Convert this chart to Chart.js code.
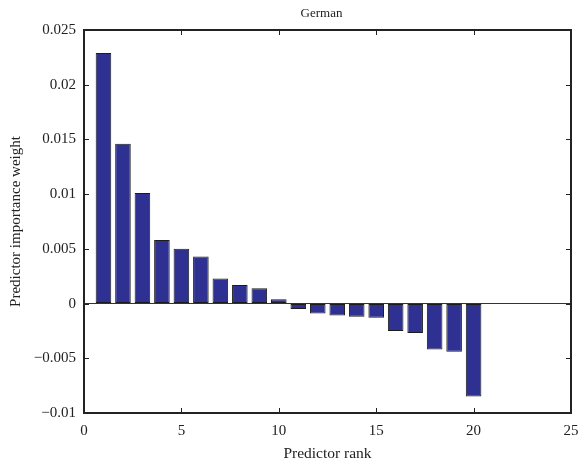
<!DOCTYPE html>
<html>
<head>
<meta charset="utf-8">
<script src="https://cdn.jsdelivr.net/npm/chart.js@4/dist/chart.umd.min.js"></script>
<style>
  html, body { margin: 0; padding: 0; background: #fff; }
  #wrap { width: 579px; height: 470px; }
</style>
</head>
<body>
<div id="wrap"><canvas id="chart" width="579" height="470"></canvas></div>
<script>
// predictor ranks and their importance weights
const ranks = [1, 2, 3, 4, 5, 6, 7, 8, 9, 10, 11, 12, 13, 14, 15, 16, 17, 18, 19, 20];
const weights = [0.0229, 0.0146, 0.0101, 0.0058, 0.0050, 0.0043, 0.0023, 0.0017, 0.0014, 0.0004,
  -0.0005, -0.0009, -0.0011, -0.0012, -0.0013, -0.0025, -0.0027, -0.0042, -0.0044, -0.0085];
const xTicks = [0, 5, 10, 15, 20, 25];
const yTicks = [-0.01, -0.005, 0, 0.005, 0.01, 0.015, 0.02, 0.025];
const chartTitle = 'German';

const serif = "'Liberation Serif', 'DejaVu Serif', serif";

// box around the plot, inward ticks on all four sides, and the title
const frame = {
  id: 'frame',
  afterDraw(chart) {
    const { ctx, chartArea: a, scales: { x, y } } = chart;
    const L = Math.round(a.left), R = Math.round(a.right);
    const T = Math.round(a.top), B = Math.round(a.bottom);
    ctx.save();
    ctx.fillStyle = '#222';
    for (const v of xTicks) {
      const px = Math.round(x.getPixelForValue(v));
      ctx.fillRect(px, B - 5, 1, 5);
      ctx.fillRect(px, T, 1, 5);
    }
    for (const v of yTicks) {
      const py = Math.round(y.getPixelForValue(v));
      ctx.fillRect(L, py, 5, 1);
      ctx.fillRect(R - 5, py, 5, 1);
    }
    ctx.fillRect(L - 1, T - 1, R - L + 2, 2);
    ctx.fillRect(L - 1, B - 1, R - L + 2, 2);
    ctx.fillRect(L - 1, T - 1, 2, B - T + 2);
    ctx.fillRect(R - 1, T - 1, 2, B - T + 2);

    ctx.font = '13px ' + serif;
    ctx.textAlign = 'center';
    ctx.textBaseline = 'alphabetic';
    ctx.fillText(chartTitle, (a.left + a.right) / 2 - 6, 17);
    ctx.restore();
  }
};

new Chart(document.getElementById('chart'), {
  type: 'bar',
  data: {
    datasets: [{
      data: ranks.map((r, i) => ({ x: r, y: weights[i] })),
      backgroundColor: '#2e3192',
      borderColor: '#1c1c1c',
      borderWidth: 1,
      borderSkipped: false,
      barPercentage: 0.8,
      categoryPercentage: 1.0
    }]
  },
  options: {
    responsive: false,
    animation: false,
    layout: { padding: { top: 30, right: 8, bottom: 0, left: 0 } },
    plugins: {
      legend: { display: false },
      tooltip: { enabled: false },
      title: { display: false }
    },
    scales: {
      x: {
        type: 'linear',
        offset: false,
        min: 0,
        max: 25,
        afterBuildTicks: s => { s.ticks = xTicks.map(v => ({ value: v })); },
        afterFit: s => { s.height = 57; s.paddingRight = 0; s.paddingLeft = 0; },
        grid: { display: false },
        border: { display: false },
        ticks: {
          color: '#222',
          font: { family: serif, size: 15 },
          padding: 1,
          maxRotation: 0
        },
        title: {
          display: true,
          text: 'Predictor rank',
          color: '#222',
          font: { family: serif, size: 15.5 },
          padding: { top: 0, bottom: 7 }
        }
      },
      y: {
        min: -0.01,
        max: 0.025,
        afterBuildTicks: s => { s.ticks = yTicks.map(v => ({ value: v })); },
        afterFit: s => { s.width = 84; },
        grid: {
          drawTicks: false,
          color: c => (c.tick && c.tick.value === 0 ? '#333' : 'rgba(0,0,0,0)'),
          lineWidth: 1
        },
        border: { display: false },
        ticks: {
          color: '#222',
          font: { family: serif, size: 15 },
          padding: 8,
          callback: v => (v === 0 ? '0' : String(+v.toFixed(3)).replace('-', '\u2212'))
        },
        title: {
          display: true,
          text: 'Predictor importance weight',
          color: '#222',
          font: { family: serif, size: 15 },
          padding: { top: 7, bottom: 2 }
        }
      }
    }
  },
  plugins: [frame]
});
</script>
</body>
</html>
